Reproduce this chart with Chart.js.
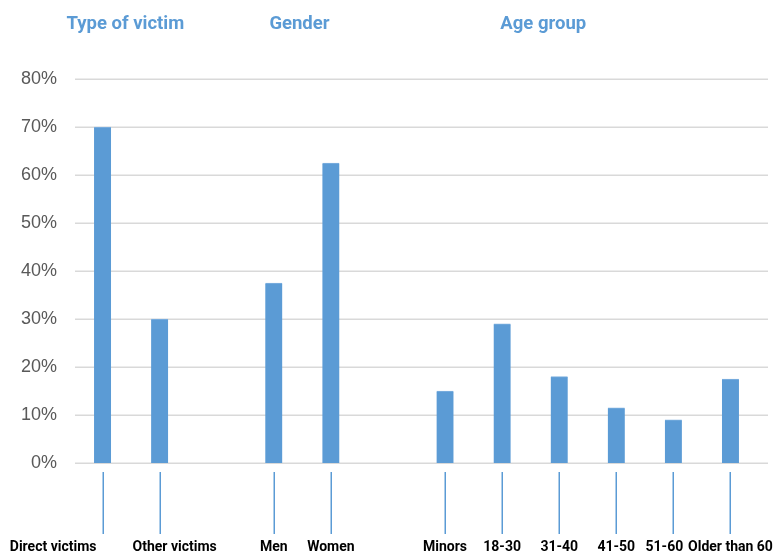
<!DOCTYPE html>
<html>
<head>
<meta charset="utf-8">
<script src="https://cdn.jsdelivr.net/npm/chart.js@4"></script>
<style>
  html, body { margin: 0; padding: 0; background: #fff; }
  #wrap { width: 774px; height: 553px; position: relative; }
</style>
</head>
<body>
<div id="wrap"><canvas id="victimChart"></canvas></div>
<script>
const categories = ['Direct victims', 'Other victims', '', 'Men', 'Women', '', 'Minors', '18-30', '31-40', '41-50', '51-60', 'Older than 60'];
const shares = [70, 30, null, 37.5, 62.5, null, 15, 29, 18, 11.5, 9, 17.5];
const yTicks = [0, 10, 20, 30, 40, 50, 60, 70, 80];
const groupTitles = ['Type of victim', 'Gender', 'Age group'];

const blue = '#5b9bd5';
const gridGray = '#d9d9d9';

// where each header sits, in category units, and small nudges for crowded labels
const headerAnchors = [0.4, 3.45, 7.72];
const labelNudge = { 1: 15, 10: -9, 11: 0 };

const decorations = {
  id: 'decorations',
  beforeDatasetsDraw(chart) {
    const { ctx, chartArea, scales } = chart;
    ctx.save();
    ctx.strokeStyle = gridGray;
    ctx.lineWidth = 1.5;
    yTicks.forEach((v) => {
      const y = Math.round(scales.y.getPixelForValue(v)) + 0.25;
      ctx.beginPath();
      ctx.moveTo(chartArea.left + 1, y);
      ctx.lineTo(768, y);
      ctx.stroke();
    });
    ctx.restore();
  },
  afterDraw(chart) {
    const { ctx, chartArea, scales } = chart;
    ctx.save();

    // blue leader lines under each category
    ctx.strokeStyle = blue;
    ctx.lineWidth = 1.5;
    categories.forEach((label, idx) => {
      if (!label) {
        return;
      }
      const x = Math.round(scales.x.getPixelForValue(idx)) + 0.25;
      ctx.beginPath();
      ctx.moveTo(x, chartArea.bottom + 9);
      ctx.lineTo(x, chartArea.bottom + 71);
      ctx.stroke();
    });

    // category labels
    ctx.fillStyle = '#000';
    ctx.font = 'bold 14px Roboto, "Liberation Sans", sans-serif';
    ctx.textBaseline = 'alphabetic';
    categories.forEach((label, idx) => {
      if (!label) {
        return;
      }
      const x = scales.x.getPixelForValue(idx);
      if (idx === 0) {
        ctx.textAlign = 'right';
        ctx.fillText(label, x - 6, 551);
      } else {
        ctx.textAlign = 'center';
        ctx.fillText(label, x + (labelNudge[idx] ?? 0), 551);
      }
    });

    // group headers
    ctx.fillStyle = blue;
    ctx.font = 'bold 18.5px Roboto, "Liberation Sans", sans-serif';
    ctx.textAlign = 'center';
    groupTitles.forEach((title, i) => {
      const a = headerAnchors[i];
      const x0 = scales.x.getPixelForValue(Math.floor(a));
      const x1 = scales.x.getPixelForValue(Math.floor(a) + 1);
      ctx.fillText(title, x0 + (x1 - x0) * (a - Math.floor(a)), 29);
    });

    ctx.restore();
  },
};

new Chart(document.getElementById('victimChart').getContext('2d'), {
  type: 'bar',
  data: {
    labels: categories,
    datasets: [{
      data: shares,
      backgroundColor: blue,
      borderColor: '#7fb1df',
      borderWidth: { top: 1, left: 0, right: 0, bottom: 0 },
      barThickness: 17,
    }],
  },
  options: {
    responsive: true,
    maintainAspectRatio: false,
    animation: false,
    layout: { padding: { top: 79, right: 15, bottom: 90, left: 0 } },
    plugins: {
      legend: { display: false },
      tooltip: { enabled: false },
    },
    scales: {
      x: {
        display: false,
        offset: true,
      },
      y: {
        min: 0,
        max: 80,
        afterFit: (scale) => { scale.width = 74; },
        afterBuildTicks: (scale) => { scale.ticks = yTicks.map((value) => ({ value })); },
        grid: { display: false, drawTicks: false },
        border: { display: false },
        ticks: {
          padding: 17,
          color: '#595959',
          font: { family: '"Liberation Sans", Arial, sans-serif', size: 18 },
          callback: (v) => `${v}%`,
        },
      },
    },
  },
  plugins: [decorations],
});
</script>
</body>
</html>
